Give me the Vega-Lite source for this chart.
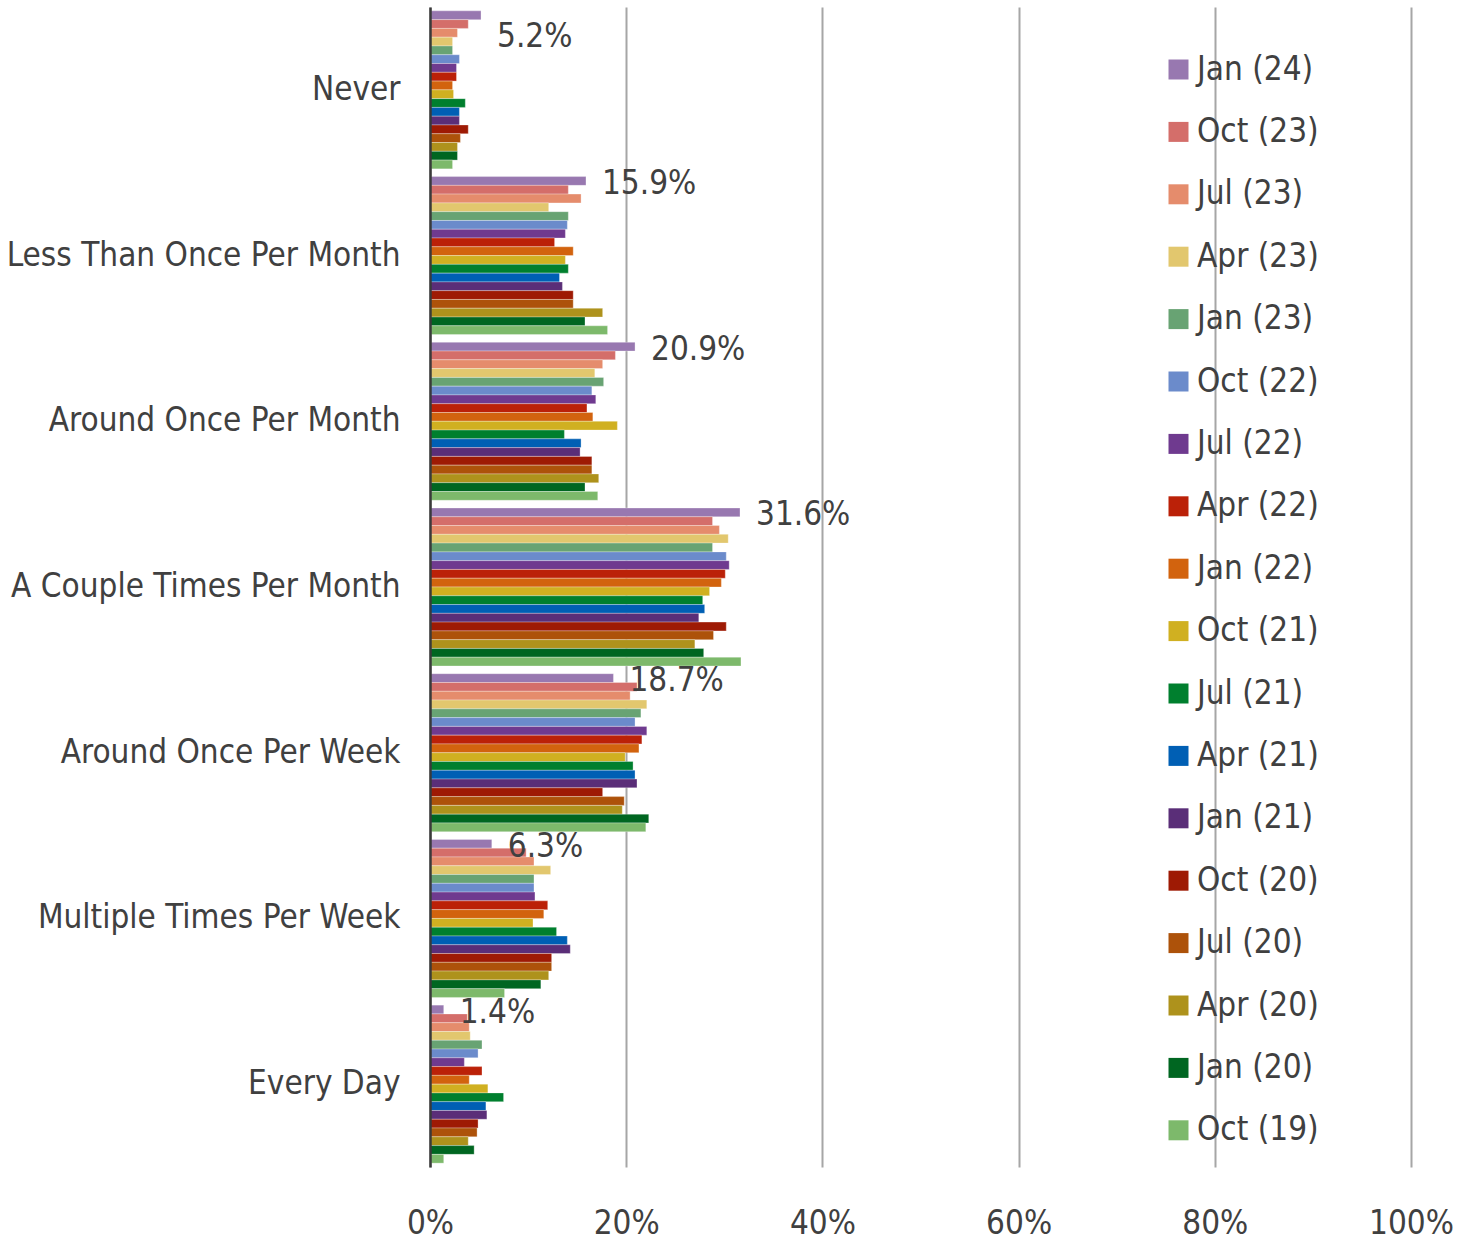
{
  "$schema": "https://vega.github.io/schema/vega-lite/v6.json",
  "width": 981,
  "height": 1160,
  "autosize": {"type": "none"},
  "padding": {"left": 430, "top": 7, "right": 62, "bottom": 80},
  "background": "white",
  "config": {
    "view": {"stroke": null},
    "font": "DejaVu Sans Condensed"
  },
  "data": {
    "values": [
      {"frequency": "Never", "wave": "Jan (24)", "share": 0.052},
      {"frequency": "Never", "wave": "Oct (23)", "share": 0.039},
      {"frequency": "Never", "wave": "Jul (23)", "share": 0.028},
      {"frequency": "Never", "wave": "Apr (23)", "share": 0.023},
      {"frequency": "Never", "wave": "Jan (23)", "share": 0.023},
      {"frequency": "Never", "wave": "Oct (22)", "share": 0.030},
      {"frequency": "Never", "wave": "Jul (22)", "share": 0.027},
      {"frequency": "Never", "wave": "Apr (22)", "share": 0.027},
      {"frequency": "Never", "wave": "Jan (22)", "share": 0.023},
      {"frequency": "Never", "wave": "Oct (21)", "share": 0.024},
      {"frequency": "Never", "wave": "Jul (21)", "share": 0.036},
      {"frequency": "Never", "wave": "Apr (21)", "share": 0.030},
      {"frequency": "Never", "wave": "Jan (21)", "share": 0.030},
      {"frequency": "Never", "wave": "Oct (20)", "share": 0.039},
      {"frequency": "Never", "wave": "Jul (20)", "share": 0.031},
      {"frequency": "Never", "wave": "Apr (20)", "share": 0.028},
      {"frequency": "Never", "wave": "Jan (20)", "share": 0.028},
      {"frequency": "Never", "wave": "Oct (19)", "share": 0.023},

      {"frequency": "Less Than Once Per Month", "wave": "Jan (24)", "share": 0.159},
      {"frequency": "Less Than Once Per Month", "wave": "Oct (23)", "share": 0.141},
      {"frequency": "Less Than Once Per Month", "wave": "Jul (23)", "share": 0.154},
      {"frequency": "Less Than Once Per Month", "wave": "Apr (23)", "share": 0.121},
      {"frequency": "Less Than Once Per Month", "wave": "Jan (23)", "share": 0.141},
      {"frequency": "Less Than Once Per Month", "wave": "Oct (22)", "share": 0.140},
      {"frequency": "Less Than Once Per Month", "wave": "Jul (22)", "share": 0.138},
      {"frequency": "Less Than Once Per Month", "wave": "Apr (22)", "share": 0.127},
      {"frequency": "Less Than Once Per Month", "wave": "Jan (22)", "share": 0.146},
      {"frequency": "Less Than Once Per Month", "wave": "Oct (21)", "share": 0.138},
      {"frequency": "Less Than Once Per Month", "wave": "Jul (21)", "share": 0.141},
      {"frequency": "Less Than Once Per Month", "wave": "Apr (21)", "share": 0.132},
      {"frequency": "Less Than Once Per Month", "wave": "Jan (21)", "share": 0.135},
      {"frequency": "Less Than Once Per Month", "wave": "Oct (20)", "share": 0.146},
      {"frequency": "Less Than Once Per Month", "wave": "Jul (20)", "share": 0.146},
      {"frequency": "Less Than Once Per Month", "wave": "Apr (20)", "share": 0.176},
      {"frequency": "Less Than Once Per Month", "wave": "Jan (20)", "share": 0.158},
      {"frequency": "Less Than Once Per Month", "wave": "Oct (19)", "share": 0.181},

      {"frequency": "Around Once Per Month", "wave": "Jan (24)", "share": 0.209},
      {"frequency": "Around Once Per Month", "wave": "Oct (23)", "share": 0.189},
      {"frequency": "Around Once Per Month", "wave": "Jul (23)", "share": 0.176},
      {"frequency": "Around Once Per Month", "wave": "Apr (23)", "share": 0.168},
      {"frequency": "Around Once Per Month", "wave": "Jan (23)", "share": 0.177},
      {"frequency": "Around Once Per Month", "wave": "Oct (22)", "share": 0.165},
      {"frequency": "Around Once Per Month", "wave": "Jul (22)", "share": 0.169},
      {"frequency": "Around Once Per Month", "wave": "Apr (22)", "share": 0.160},
      {"frequency": "Around Once Per Month", "wave": "Jan (22)", "share": 0.166},
      {"frequency": "Around Once Per Month", "wave": "Oct (21)", "share": 0.191},
      {"frequency": "Around Once Per Month", "wave": "Jul (21)", "share": 0.137},
      {"frequency": "Around Once Per Month", "wave": "Apr (21)", "share": 0.154},
      {"frequency": "Around Once Per Month", "wave": "Jan (21)", "share": 0.153},
      {"frequency": "Around Once Per Month", "wave": "Oct (20)", "share": 0.165},
      {"frequency": "Around Once Per Month", "wave": "Jul (20)", "share": 0.165},
      {"frequency": "Around Once Per Month", "wave": "Apr (20)", "share": 0.172},
      {"frequency": "Around Once Per Month", "wave": "Jan (20)", "share": 0.158},
      {"frequency": "Around Once Per Month", "wave": "Oct (19)", "share": 0.171},

      {"frequency": "A Couple Times Per Month", "wave": "Jan (24)", "share": 0.316},
      {"frequency": "A Couple Times Per Month", "wave": "Oct (23)", "share": 0.288},
      {"frequency": "A Couple Times Per Month", "wave": "Jul (23)", "share": 0.295},
      {"frequency": "A Couple Times Per Month", "wave": "Apr (23)", "share": 0.304},
      {"frequency": "A Couple Times Per Month", "wave": "Jan (23)", "share": 0.288},
      {"frequency": "A Couple Times Per Month", "wave": "Oct (22)", "share": 0.302},
      {"frequency": "A Couple Times Per Month", "wave": "Jul (22)", "share": 0.305},
      {"frequency": "A Couple Times Per Month", "wave": "Apr (22)", "share": 0.301},
      {"frequency": "A Couple Times Per Month", "wave": "Jan (22)", "share": 0.297},
      {"frequency": "A Couple Times Per Month", "wave": "Oct (21)", "share": 0.285},
      {"frequency": "A Couple Times Per Month", "wave": "Jul (21)", "share": 0.278},
      {"frequency": "A Couple Times Per Month", "wave": "Apr (21)", "share": 0.280},
      {"frequency": "A Couple Times Per Month", "wave": "Jan (21)", "share": 0.274},
      {"frequency": "A Couple Times Per Month", "wave": "Oct (20)", "share": 0.302},
      {"frequency": "A Couple Times Per Month", "wave": "Jul (20)", "share": 0.289},
      {"frequency": "A Couple Times Per Month", "wave": "Apr (20)", "share": 0.270},
      {"frequency": "A Couple Times Per Month", "wave": "Jan (20)", "share": 0.279},
      {"frequency": "A Couple Times Per Month", "wave": "Oct (19)", "share": 0.317},

      {"frequency": "Around Once Per Week", "wave": "Jan (24)", "share": 0.187},
      {"frequency": "Around Once Per Week", "wave": "Oct (23)", "share": 0.211},
      {"frequency": "Around Once Per Week", "wave": "Jul (23)", "share": 0.204},
      {"frequency": "Around Once Per Week", "wave": "Apr (23)", "share": 0.221},
      {"frequency": "Around Once Per Week", "wave": "Jan (23)", "share": 0.215},
      {"frequency": "Around Once Per Week", "wave": "Oct (22)", "share": 0.209},
      {"frequency": "Around Once Per Week", "wave": "Jul (22)", "share": 0.221},
      {"frequency": "Around Once Per Week", "wave": "Apr (22)", "share": 0.216},
      {"frequency": "Around Once Per Week", "wave": "Jan (22)", "share": 0.213},
      {"frequency": "Around Once Per Week", "wave": "Oct (21)", "share": 0.199},
      {"frequency": "Around Once Per Week", "wave": "Jul (21)", "share": 0.207},
      {"frequency": "Around Once Per Week", "wave": "Apr (21)", "share": 0.209},
      {"frequency": "Around Once Per Week", "wave": "Jan (21)", "share": 0.211},
      {"frequency": "Around Once Per Week", "wave": "Oct (20)", "share": 0.176},
      {"frequency": "Around Once Per Week", "wave": "Jul (20)", "share": 0.198},
      {"frequency": "Around Once Per Week", "wave": "Apr (20)", "share": 0.196},
      {"frequency": "Around Once Per Week", "wave": "Jan (20)", "share": 0.223},
      {"frequency": "Around Once Per Week", "wave": "Oct (19)", "share": 0.220},

      {"frequency": "Multiple Times Per Week", "wave": "Jan (24)", "share": 0.063},
      {"frequency": "Multiple Times Per Week", "wave": "Oct (23)", "share": 0.098},
      {"frequency": "Multiple Times Per Week", "wave": "Jul (23)", "share": 0.106},
      {"frequency": "Multiple Times Per Week", "wave": "Apr (23)", "share": 0.123},
      {"frequency": "Multiple Times Per Week", "wave": "Jan (23)", "share": 0.106},
      {"frequency": "Multiple Times Per Week", "wave": "Oct (22)", "share": 0.106},
      {"frequency": "Multiple Times Per Week", "wave": "Jul (22)", "share": 0.107},
      {"frequency": "Multiple Times Per Week", "wave": "Apr (22)", "share": 0.120},
      {"frequency": "Multiple Times Per Week", "wave": "Jan (22)", "share": 0.116},
      {"frequency": "Multiple Times Per Week", "wave": "Oct (21)", "share": 0.105},
      {"frequency": "Multiple Times Per Week", "wave": "Jul (21)", "share": 0.129},
      {"frequency": "Multiple Times Per Week", "wave": "Apr (21)", "share": 0.140},
      {"frequency": "Multiple Times Per Week", "wave": "Jan (21)", "share": 0.143},
      {"frequency": "Multiple Times Per Week", "wave": "Oct (20)", "share": 0.124},
      {"frequency": "Multiple Times Per Week", "wave": "Jul (20)", "share": 0.124},
      {"frequency": "Multiple Times Per Week", "wave": "Apr (20)", "share": 0.121},
      {"frequency": "Multiple Times Per Week", "wave": "Jan (20)", "share": 0.113},
      {"frequency": "Multiple Times Per Week", "wave": "Oct (19)", "share": 0.076},

      {"frequency": "Every Day", "wave": "Jan (24)", "share": 0.014},
      {"frequency": "Every Day", "wave": "Oct (23)", "share": 0.038},
      {"frequency": "Every Day", "wave": "Jul (23)", "share": 0.040},
      {"frequency": "Every Day", "wave": "Apr (23)", "share": 0.041},
      {"frequency": "Every Day", "wave": "Jan (23)", "share": 0.053},
      {"frequency": "Every Day", "wave": "Oct (22)", "share": 0.049},
      {"frequency": "Every Day", "wave": "Jul (22)", "share": 0.035},
      {"frequency": "Every Day", "wave": "Apr (22)", "share": 0.053},
      {"frequency": "Every Day", "wave": "Jan (22)", "share": 0.040},
      {"frequency": "Every Day", "wave": "Oct (21)", "share": 0.059},
      {"frequency": "Every Day", "wave": "Jul (21)", "share": 0.075},
      {"frequency": "Every Day", "wave": "Apr (21)", "share": 0.057},
      {"frequency": "Every Day", "wave": "Jan (21)", "share": 0.058},
      {"frequency": "Every Day", "wave": "Oct (20)", "share": 0.049},
      {"frequency": "Every Day", "wave": "Jul (20)", "share": 0.048},
      {"frequency": "Every Day", "wave": "Apr (20)", "share": 0.039},
      {"frequency": "Every Day", "wave": "Jan (20)", "share": 0.045},
      {"frequency": "Every Day", "wave": "Oct (19)", "share": 0.014}
    ]
  },
  "encoding": {
    "y": {
      "field": "frequency",
      "type": "nominal",
      "sort": ["Never", "Less Than Once Per Month", "Around Once Per Month", "A Couple Times Per Month", "Around Once Per Week", "Multiple Times Per Week", "Every Day"],
      "scale": {"paddingInner": 0.0465, "paddingOuter": 0.02325},
      "axis": {
        "title": null,
        "ticks": false,
        "tickSize": 0,
        "labelPadding": 30,
        "labelFont": "DejaVu Sans Condensed",
        "labelFontSize": 33,
        "labelColor": "#404040",
        "labelLimit": 500,
        "domain": true,
        "domainColor": "#3a3a3a",
        "domainWidth": 2.5,
        "grid": false,
        "zindex": 2
      }
    },
    "yOffset": {
      "field": "wave",
      "type": "nominal",
      "scale": {
        "domain": ["Jan (24)", "Oct (23)", "Jul (23)", "Apr (23)", "Jan (23)", "Oct (22)", "Jul (22)", "Apr (22)", "Jan (22)", "Oct (21)", "Jul (21)", "Apr (21)", "Jan (21)", "Oct (20)", "Jul (20)", "Apr (20)", "Jan (20)", "Oct (19)"],
        "paddingInner": 0,
        "paddingOuter": 0
      }
    },
    "x": {
      "field": "share",
      "type": "quantitative",
      "scale": {"domain": [0, 1], "nice": false},
      "axis": {
        "title": null,
        "values": [0, 0.2, 0.4, 0.6, 0.8, 1],
        "format": ".0%",
        "ticks": false,
        "domain": false,
        "grid": true,
        "gridColor": "#a6a6a6",
        "gridWidth": 2,
        "labelPadding": 40,
        "labelFont": "DejaVu Sans Condensed",
        "labelFontSize": 33,
        "labelColor": "#404040",
        "labelFlush": false
      }
    }
  },
  "layer": [
    {
      "mark": {"type": "bar", "stroke": "white", "strokeWidth": 0.6, "strokeOpacity": 0.5},
      "encoding": {
        "color": {
          "field": "wave",
          "type": "nominal",
          "scale": {
            "domain": ["Jan (24)", "Oct (23)", "Jul (23)", "Apr (23)", "Jan (23)", "Oct (22)", "Jul (22)", "Apr (22)", "Jan (22)", "Oct (21)", "Jul (21)", "Apr (21)", "Jan (21)", "Oct (20)", "Jul (20)", "Apr (20)", "Jan (20)", "Oct (19)"],
            "range": ["#9878b0", "#d46e6a", "#e58c6c", "#e2c76e", "#68a373", "#6b8bcb", "#6f3a8f", "#bb2108", "#d2630e", "#d0b021", "#007f2e", "#005fb4", "#5a2e78", "#9e1a04", "#ad520a", "#ae921c", "#006621", "#7db96b"]
          },
          "legend": {
            "orient": "none",
            "legendX": 732,
            "legendY": 46,
            "title": null,
            "symbolType": "square",
            "symbolSize": 400,
            "symbolStrokeWidth": 0,
            "labelFont": "DejaVu Sans Condensed",
            "labelFontSize": 33,
            "labelColor": "#404040",
            "labelLimit": 400,
            "labelOffset": 2,
            "rowPadding": 28.4
          }
        }
      }
    },
    {
      "transform": [{"filter": "datum.wave === 'Jan (24)' && datum.frequency !== 'Never'"}],
      "mark": {"type": "text", "align": "left", "baseline": "middle", "dx": 16, "dy": 3, "font": "DejaVu Sans Condensed", "fontSize": 33, "color": "#404040"},
      "encoding": {
        "text": {"field": "share", "type": "quantitative", "format": ".1%"}
      }
    },
    {
      "transform": [{"filter": "datum.wave === 'Jan (24)' && datum.frequency === 'Never'"}],
      "mark": {"type": "text", "align": "left", "baseline": "middle", "dx": 16, "dy": 22, "font": "DejaVu Sans Condensed", "fontSize": 33, "color": "#404040"},
      "encoding": {
        "text": {"field": "share", "type": "quantitative", "format": ".1%"}
      }
    }
  ]
}
